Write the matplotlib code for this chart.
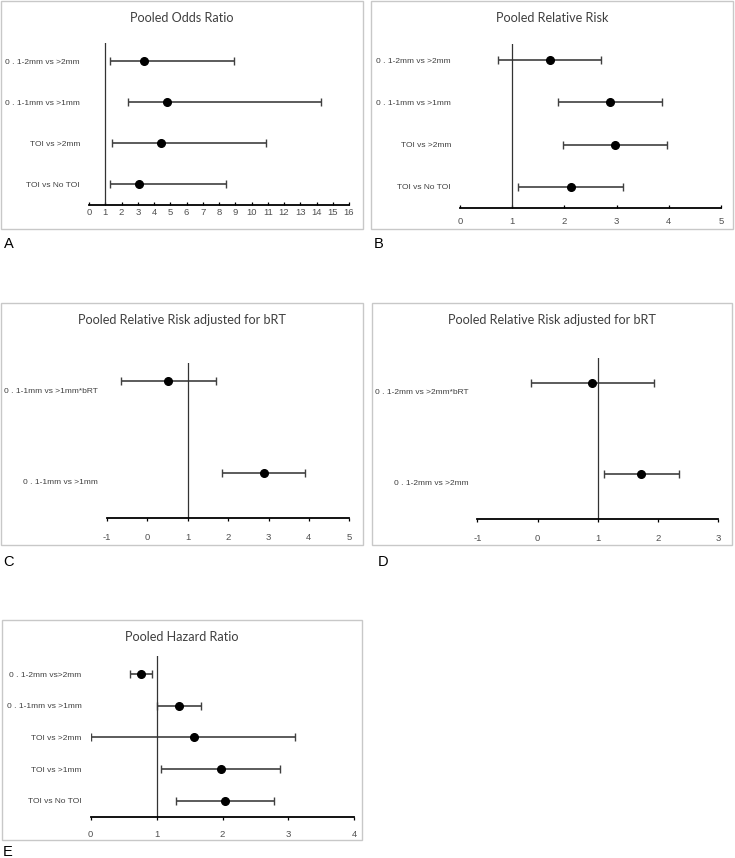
import matplotlib.pyplot as plt
from matplotlib.patches import Rectangle
from matplotlib.transforms import ScaledTranslation

W, H = 735, 858

# A - pooled odds ratio
a_labels = ["0 . 1-2mm vs >2mm", "0 . 1-1mm vs >1mm", "TOI vs >2mm", "TOI vs No TOI"]
a_est = [3.36, 4.82, 4.43, 3.10]
a_lo = [1.31, 2.38, 1.44, 1.31]
a_hi = [8.94, 14.28, 10.91, 8.41]
a_ticks = list(range(0, 17))

# B - pooled relative risk
b_labels = ["0 . 1-2mm vs >2mm", "0 . 1-1mm vs >1mm", "TOI vs >2mm", "TOI vs No TOI"]
b_est = [1.72, 2.87, 2.97, 2.12]
b_lo = [0.72, 1.88, 1.97, 1.11]
b_hi = [2.71, 3.87, 3.97, 3.12]
b_ticks = list(range(0, 6))

# C - relative risk adjusted for bRT (0.1-1mm)
c_labels = ["0 . 1-1mm vs >1mm*bRT", "0 . 1-1mm vs >1mm"]
c_est = [0.50, 2.89]
c_lo = [-0.66, 1.85]
c_hi = [1.69, 3.90]
c_ticks = list(range(-1, 6))

# D - relative risk adjusted for bRT (0.1-2mm)
d_labels = ["0 . 1-2mm vs >2mm*bRT", "0 . 1-2mm vs >2mm"]
d_est = [0.90, 1.72]
d_lo = [-0.11, 1.10]
d_hi = [1.93, 2.35]
d_ticks = list(range(-1, 4))

# E - pooled hazard ratio
e_labels = ["0 . 1-2mm vs>2mm", "0 . 1-1mm vs >1mm", "TOI vs >2mm", "TOI vs >1mm", "TOI vs No TOI"]
e_est = [0.76, 1.34, 1.56, 1.97, 2.04]
e_lo = [0.59, 1.00, 0.01, 1.07, 1.30]
e_hi = [0.93, 1.67, 3.10, 2.87, 2.78]
e_ticks = list(range(0, 5))

TXT_FONT = ["Liberation Sans", "DejaVu Sans"]
TITLE_FONT = ["Lato", "DejaVu Sans"]

fig = plt.figure(figsize=(W / 100, H / 100), dpi=100)


def add_panel(letter, title, labels, est, lo, hi, ticks, box, axbox, ytop,
              letter_xy, tick_dir, xpad, label_shift=0):
    # box = (x0, y0, x1, y1) px, axbox = (left, right, axis_y, top) px
    x0, y0, x1, y1 = box
    fig.add_artist(Rectangle((x0 / W, 1 - y1 / H), (x1 - x0) / W, (y1 - y0) / H,
                             transform=fig.transFigure, fill=False,
                             edgecolor="#c8c8c8", linewidth=1.0))
    fig.text((x0 + x1) / 2 / W, 1 - (y0 + 17) / H, title, ha="center", va="center",
             fontsize=9.1, color="#404040", family=TITLE_FONT)
    # panel letter, placed by its baseline
    fig.text(letter_xy[0] / W, 1 - letter_xy[1] / H, letter, ha="left", va="baseline",
             fontsize=10.5, color="black", family=["Liberation Sans", "DejaVu Sans"])

    l, r, b, t = axbox
    ax = fig.add_axes([l / W, 1 - b / H, (r - l) / W, (b - t) / H])
    n = len(labels)
    rows = [n - 0.5 - i for i in range(n)]
    xerr = [[e - a for e, a in zip(est, lo)], [h - e for e, h in zip(est, hi)]]
    ax.errorbar(est, rows, xerr=xerr, fmt="o", color="black", markersize=5.5,
                ecolor="#404040", elinewidth=1.2, capsize=3, capthick=1.0)
    ax.axvline(1, color="#333333", linewidth=0.9)
    ax.set_xlim(ticks[0], ticks[-1])
    ax.set_ylim(0, ytop)
    ax.set_xticks(ticks)
    ax.set_xticklabels([str(v) for v in ticks], family=TXT_FONT, fontsize=6.8,
                       color="#505050")
    ax.set_yticks(rows)
    ax.set_yticklabels(labels, family=TXT_FONT, fontsize=6.0, color="#404040")
    ax.tick_params(axis="y", length=0, pad=6.5)
    ax.tick_params(axis="x", direction=tick_dir, length=2.5, width=0.9, pad=xpad)
    for s in ["left", "right", "top"]:
        ax.spines[s].set_visible(False)
    ax.spines["bottom"].set_linewidth(1.3)
    ax.patch.set_alpha(0)
    if label_shift:
        off = ScaledTranslation(0, -label_shift / 100, fig.dpi_scale_trans)
        for lbl in ax.get_yticklabels():
            lbl.set_transform(lbl.get_transform() + off)
    return ax


add_panel("A", "Pooled Odds Ratio", a_labels, a_est, a_lo, a_hi, a_ticks,
          (1, 1, 363, 229), (89, 349, 205, 43), 3.95, (4, 248), "in", 2.5)
add_panel("B", "Pooled Relative Risk", b_labels, b_est, b_lo, b_hi, b_ticks,
          (371, 1, 733, 229), (460, 721, 207.7, 44), 3.89, (374, 248), "in", 7)
add_panel("C", "Pooled Relative Risk adjusted for bRT", c_labels, c_est, c_lo, c_hi,
          c_ticks, (1, 303, 363, 545), (107, 349.3, 518.3, 363), 1.70, (3, 566),
          "out", 8, label_shift=9)
add_panel("D", "Pooled Relative Risk adjusted for bRT", d_labels, d_est, d_lo, d_hi,
          d_ticks, (372, 303, 732, 545), (477.3, 718.3, 519.3, 358), 1.77, (378, 566),
          "out", 8, label_shift=9)
add_panel("E", "Pooled Hazard Ratio", e_labels, e_est, e_lo, e_hi, e_ticks,
          (2, 620, 362, 840), (90.7, 354.3, 816.7, 656), 5.07, (3, 856),
          "out", 7)

fig.savefig("out.png", dpi=100)
